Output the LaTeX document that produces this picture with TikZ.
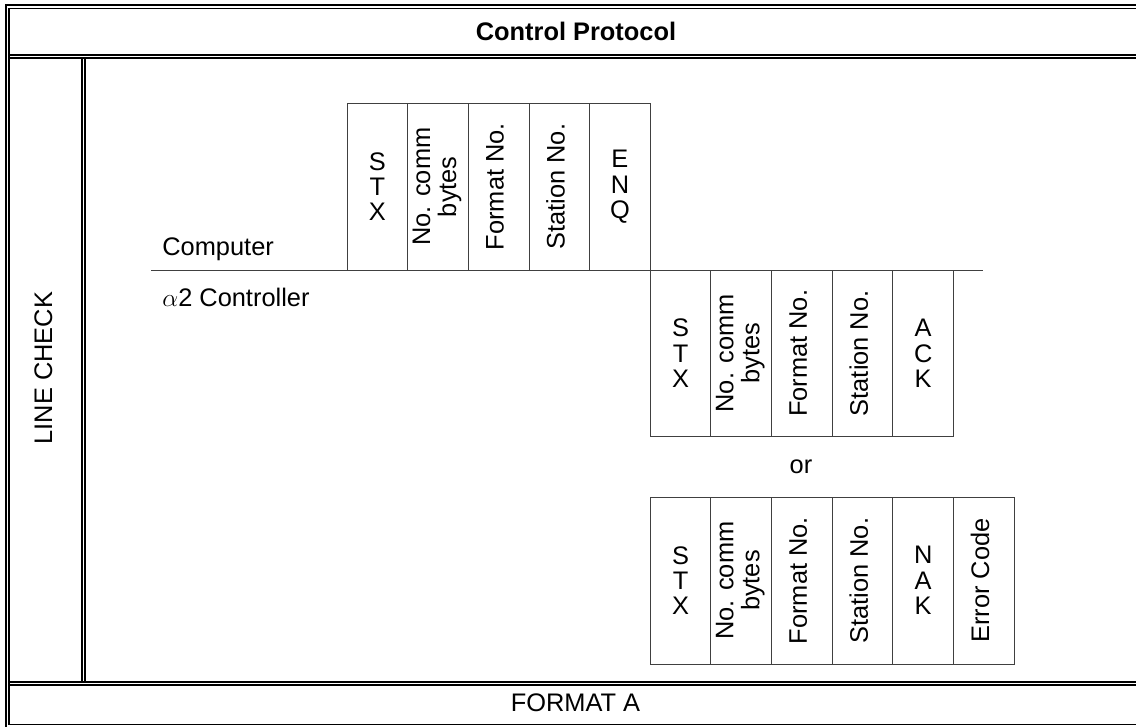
\documentclass[tikz,border=0pt]{standalone}
\usepackage{fontspec}
\setmainfont{Liberation Sans}
\usetikzlibrary{positioning}
\newcommand{\uptext}[1]{\rotatebox{90}{\begin{tabular}{@{}c@{}}#1\end{tabular}}}
\tikzset{
  field/.style={draw=black!75, line width=0.5pt, minimum width=1.213cm, minimum height=3.333cm, inner sep=0pt, outer sep=0pt, align=center},
  frame/.style={line width=0.6pt},
}
\begin{document}
\begin{tikzpicture}[font=\fontsize{14.45}{14.45}\selectfont]
\path[use as bounding box] (0,0) rectangle (22.72,-14.52);
\clip (0,0) rectangle (22.72,-14.52);
% table frame
\draw[frame] (0.12,-0.10) rectangle (22.92,-14.56);
\draw[frame] (0.18,-0.17) rectangle (22.86,-14.49);
\draw[frame] (0.18,-1.10) -- (22.86,-1.10);
\draw[frame] (0.18,-1.16) -- (22.86,-1.16);
\draw[frame] (1.64,-1.16) -- (1.64,-13.64);
\draw[frame] (1.70,-1.16) -- (1.70,-13.64);
\draw[frame] (0.18,-13.64) -- (22.86,-13.64);
\draw[frame] (0.18,-13.70) -- (22.86,-13.70);
\node (title) at (11.52,-0.635) {\bfseries Control Protocol};
\node (format) at (11.51,-14.05) {FORMAT A};
\node[rotate=90] (check) at (0.87,-7.36) {LINE CHECK};
% time line
\coordinate (lineL) at (3.02,-5.40);
\coordinate (lineR) at (19.66,-5.40);
\draw[draw=black!75, line width=0.5pt] (lineL) -- (lineR);
\node[anchor=base west, inner sep=0pt] (comp) at (3.24,-5.10) {Computer};
\node[anchor=base west, inner sep=0pt] (ctrl) at (3.24,-6.13) {$\alpha$2 Controller};
% computer sends
\node[field, anchor=south west] (cstx) at (6.94,-5.40) {S\\T\\X};
\node[field, right=0pt of cstx] (cnum) {\uptext{No. comm\\bytes}};
\node[field, right=0pt of cnum] (cfmt) {\uptext{Format No.}};
\node[field, right=0pt of cfmt] (cstn) {\uptext{Station No.}};
\node[field, right=0pt of cstn] (cenq) {E\\N\\Q};
% controller answers
\node[field, anchor=north west] (astx) at (cenq.south east) {S\\T\\X};
\node[field, right=0pt of astx] (anum) {\uptext{No. comm\\bytes}};
\node[field, right=0pt of anum] (afmt) {\uptext{Format No.}};
\node[field, right=0pt of afmt] (astn) {\uptext{Station No.}};
\node[field, right=0pt of astn] (aack) {A\\C\\K};
\node[anchor=base] (alt) at (16.02,-9.46) {or};
\node[field, below=1.213cm of astx] (nstx) {S\\T\\X};
\node[field, right=0pt of nstx] (nnum) {\uptext{No. comm\\bytes}};
\node[field, right=0pt of nnum] (nfmt) {\uptext{Format No.}};
\node[field, right=0pt of nfmt] (nstn) {\uptext{Station No.}};
\node[field, right=0pt of nstn] (nnak) {N\\A\\K};
\node[field, right=0pt of nnak] (nerr) {\uptext{Error Code}};
\end{tikzpicture}
\end{document}
